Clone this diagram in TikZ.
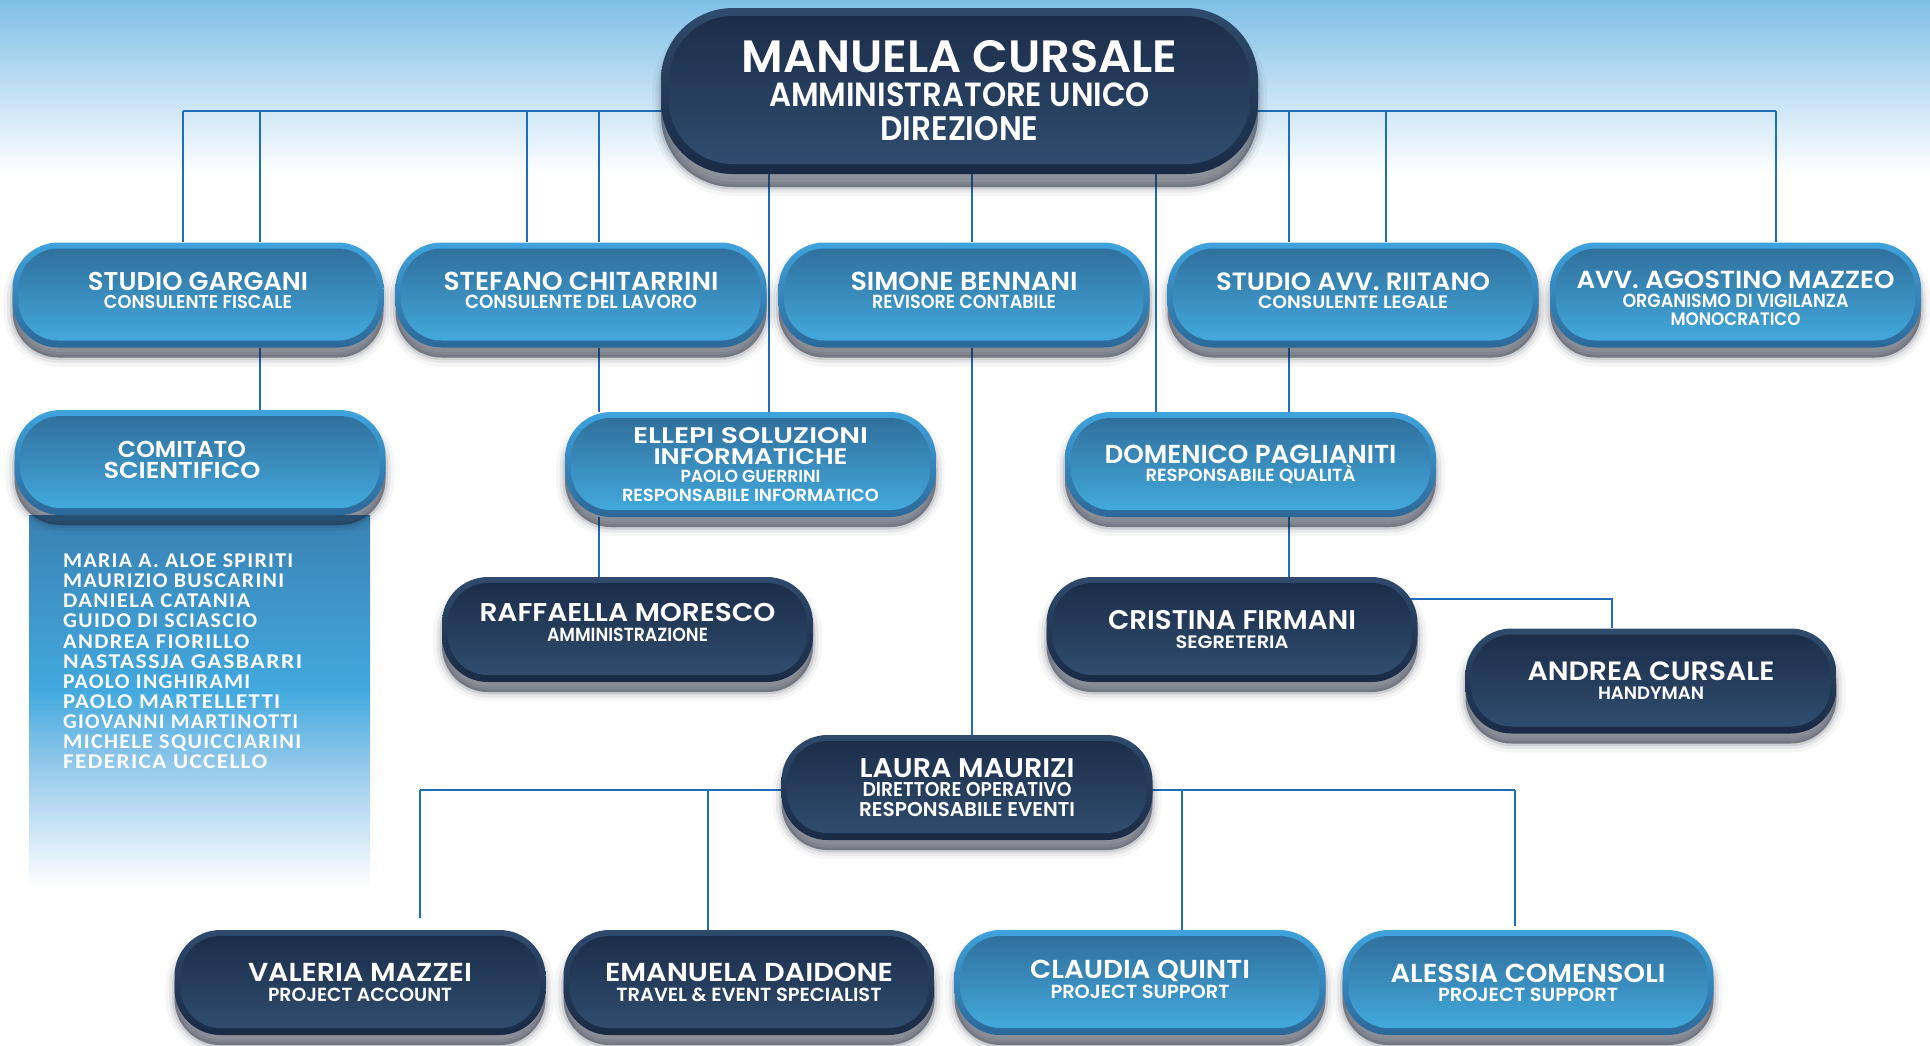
\documentclass[tikz,border=0pt]{standalone}
\usepackage{fontspec}
\usepackage{graphicx}
\setmainfont{Poppins SemiBold}
\newfontfamily\listfont{Carlito}[LetterSpace=6]
\definecolor{bgtop}{HTML}{7FBFE7}
\definecolor{rimLt}{HTML}{3FA3DD}
\definecolor{rimLb}{HTML}{2C6898}
\definecolor{inLt}{HTML}{2F6C99}
\definecolor{inLb}{HTML}{44ADE0}
\definecolor{rimDt}{HTML}{2F4B6D}
\definecolor{rimDb}{HTML}{1A2A45}
\definecolor{inDt}{HTML}{1B2B47}
\definecolor{inDb}{HTML}{314F72}
\definecolor{linec}{HTML}{1F6DBB}
\definecolor{pan1}{HTML}{3A81B4}
\definecolor{pan2}{HTML}{42A9DE}
\definecolor{pan3}{HTML}{8EC6EA}
\definecolor{shad}{HTML}{1A2233}
\newcommand\fitl[3]{\resizebox{#1pt}{\height}{\fontsize{#2}{#2}\selectfont #3}}
\newcommand\cmline[2]{\resizebox{#1pt}{\height}{\listfont\bfseries\fontsize{21}{21}\selectfont #2}}
\pgfdeclarelayer{backdrop}
\pgfdeclarelayer{lines}
\pgfsetlayers{backdrop,lines,main}
\tikzset{
  bs/.style={font=\fontsize{10}{#1}\selectfont},
  softshadow/.style={
    preaction={fill=shad, draw=shad, opacity=0.04, line width=18pt, transform canvas={yshift=-#1}},
    preaction={fill=shad, draw=shad, opacity=0.07, line width=11pt, transform canvas={yshift=-#1}},
    preaction={fill=shad, draw=shad, opacity=0.12, line width=5pt, transform canvas={yshift=-#1}},
    preaction={fill=shad, opacity=0.35, transform canvas={yshift=-#1}}},
  pillbase/.style={rectangle, rounded corners=46pt, minimum width=371pt, minimum height=105pt,
    inner sep=0pt, align=center, text=white, softshadow=10pt},
  lightpill/.style={pillbase, top color=rimLt, bottom color=rimLb,
    path picture={\shade[top color=inLt, bottom color=inLb, rounded corners=40pt]
      ([xshift=6pt,yshift=-6pt]path picture bounding box.north west) rectangle
      ([xshift=-6pt,yshift=7pt]path picture bounding box.south east);}},
  darkpill/.style={pillbase, top color=rimDt, bottom color=rimDb,
    path picture={\shade[top color=inDt, bottom color=inDb, rounded corners=40pt]
      ([xshift=6pt,yshift=-6pt]path picture bounding box.north west) rectangle
      ([xshift=-6pt,yshift=7pt]path picture bounding box.south east);}},
  toppill/.style={rectangle, rounded corners=72pt, minimum width=597pt, minimum height=166pt,
    inner sep=0pt, align=center, text=white, top color=rimDt, bottom color=rimDb, softshadow=13pt,
    path picture={\shade[top color=inDt, bottom color=inDb, rounded corners=64pt]
      ([xshift=8pt,yshift=-8pt]path picture bounding box.north west) rectangle
      ([xshift=-8pt,yshift=10pt]path picture bounding box.south east);}},
  conn/.style={draw=linec, line width=2.7pt},
  listtxt/.style={inner sep=0pt, align=left, text=white, font=\fontsize{10}{20.16}\selectfont}
}
\begin{document}
\begin{tikzpicture}[x=1pt,y=-1pt]
\useasboundingbox (0,0) rectangle (1930,1045);
\begin{pgfonlayer}{backdrop}
  \fill[white] (0,0) rectangle (1930,1045);
  \shade[top color=bgtop, bottom color=white] (0,0) rectangle (1930,175);
  \shade[top color=pan1, bottom color=pan2] (29,515) rectangle (370,690.5);
  \shade[top color=pan2, bottom color=pan3] (29,690) rectangle (370,760.5);
  \shade[top color=pan3, bottom color=white] (29,760) rectangle (370,887);
\end{pgfonlayer}

% top
\node[toppill, bs=34] (top) at (959.5,91)
  {\fitl{436}{45.3}{MANUELA CURSALE}\\\fitl{381}{33.5}{AMMINISTRATORE UNICO}\\\fitl{158}{34}{DIREZIONE}};

% row 2
\node[lightpill, bs=17.8, text depth=9pt] (gargani) at (198,295)
  {\fitl{220}{25.7}{STUDIO GARGANI}\\\fitl{188}{18.6}{CONSULENTE FISCALE}};
\node[lightpill, bs=17.8, text depth=9pt] (stefano) at (581,295)
  {\fitl{275}{26}{STEFANO CHITARRINI}\\\fitl{232}{19}{CONSULENTE DEL LAVORO}};
\node[lightpill, bs=17.8, text depth=9pt] (simone) at (964,295)
  {\fitl{227}{26}{SIMONE BENNANI}\\\fitl{184}{19}{REVISORE CONTABILE}};
\node[lightpill, bs=17.8, text depth=9pt] (riitano) at (1353,295)
  {\fitl{274}{25}{STUDIO AVV. RIITANO}\\\fitl{190}{18}{CONSULENTE LEGALE}};
\node[lightpill, bs=18.5] (mazzeo) at (1735.5,295)
  {\rule{0pt}{25pt}\fitl{318}{24.7}{AVV. AGOSTINO MAZZEO}\\\fitl{226}{19}{ORGANISMO DI VIGILANZA}\\\fitl{130}{18}{MONOCRATICO}};

% row 3
\node[lightpill, bs=20.5, text depth=5.6pt] (comitato) at (200,462.5)
  {\fitl{128}{23}{COMITATO}\rule{36pt}{0pt}\\\fitl{157}{23}{SCIENTIFICO}\rule{36pt}{0pt}};
\node[lightpill, bs=18.6] (ellepi) at (750.5,464.5)
  {\fitl{235}{22.5}{ELLEPI SOLUZIONI}\\[2.5pt]\fitl{194}{22.5}{INFORMATICHE}\\\fitl{140}{17.5}{PAOLO GUERRINI}\\\fitl{257}{17.5}{RESPONSABILE INFORMATICO}};
\node[lightpill, bs=18] (domenico) at (1250.5,464.5)
  {\fitl{292}{26}{DOMENICO PAGLIANITI}\\\fitl{210}{17.6}{RESPONSABILE QUALITÀ}};

% comitato list
\node[listtxt, anchor=north west] (members) at (63,553.4)
  {\cmline{230}{MARIA A. ALOE SPIRITI}\\\cmline{221}{MAURIZIO BUSCARINI}\\\cmline{187}{DANIELA CATANIA}\\
   \cmline{194}{GUIDO DI SCIASCIO}\\\cmline{186}{ANDREA FIORILLO}\\\cmline{239}{NASTASSJA GASBARRI}\\
   \cmline{187}{PAOLO INGHIRAMI}\\\cmline{217}{PAOLO MARTELLETTI}\\\cmline{235}{GIOVANNI MARTINOTTI}\\
   \cmline{238}{MICHELE SQUICCIARINI}\\\cmline{204}{FEDERICA UCCELLO}};

% row 4
\node[darkpill, bs=20, text depth=15pt] (raffaella) at (627.5,629.5)
  {\fitl{296}{25.7}{RAFFAELLA MORESCO}\\\fitl{161}{19}{AMMINISTRAZIONE}};
\node[darkpill, bs=19] (cristina) at (1232,629.5)
  {\fitl{248}{27}{CRISTINA FIRMANI}\\\fitl{113}{18}{SEGRETERIA}};
\node[darkpill, bs=19] (andrea) at (1651,681)
  {\fitl{247}{26.5}{ANDREA CURSALE}\\\fitl{106}{18}{HANDYMAN}};
\node[darkpill, bs=19.5] (laura) at (967,787.5)
  {\fitl{215}{27}{LAURA MAURIZI}\\\fitl{209}{20}{DIRETTORE OPERATIVO}\\\fitl{216}{20}{RESPONSABILE EVENTI}};

% bottom row
\node[darkpill, bs=19.3] (valeria) at (360,982.5)
  {\fitl{224}{26}{VALERIA MAZZEI}\\\fitl{184}{19}{PROJECT ACCOUNT}};
\node[darkpill, bs=19.3] (emanuela) at (749,982.5)
  {\fitl{288}{26}{EMANUELA DAIDONE}\\\fitl{265}{19}{TRAVEL \& EVENT SPECIALIST}};
\node[lightpill, bs=20, text depth=7pt] (claudia) at (1140,982.5)
  {\fitl{220}{26}{CLAUDIA QUINTI}\\\fitl{179}{19}{PROJECT SUPPORT}};
\node[lightpill, bs=19] (alessia) at (1528,982.5)
  {\fitl{275}{26}{ALESSIA COMENSOLI}\\\fitl{180}{19}{PROJECT SUPPORT}};

% connectors
\begin{pgfonlayer}{lines}
  \coordinate (busL) at (183,111);
  \coordinate (busR) at (1776,111);
  \draw[conn] (busL) -- (busR);
  \draw[conn] (busL) -- (gargani.north -| busL);
  \draw[conn] (busL -| 260,0) -- (gargani.north -| 260,0);
  \draw[conn] (busL -| 527,0) -- (stefano.north -| 527,0);
  \draw[conn] (busL -| 599,0) -- (stefano.north -| 599,0);
  \draw[conn] (busL -| 1289,0) -- (riitano.north -| 1289,0);
  \draw[conn] (busL -| 1386,0) -- (riitano.north -| 1386,0);
  \draw[conn] (busR) -- (mazzeo.north -| busR);
  \draw[conn] (top.south -| 769,0) -- (ellepi.north -| 769,0);
  \draw[conn] (top.south -| 972,0) -- (simone.north -| 972,0);
  \draw[conn] (top.south -| 1156,0) -- (domenico.north -| 1156,0);
  \draw[conn] (gargani.south -| 260,0) -- (comitato.north -| 260,0);
  \draw[conn] (stefano.south -| 599,0) -- (ellepi.north -| 599,0);
  \draw[conn] (ellepi.south -| 599,0) -- (raffaella.north -| 599,0);
  \draw[conn] (simone.south -| 972,0) -- (laura.north -| 972,0);
  \draw[conn] (riitano.south -| 1289,0) -- (domenico.north -| 1289,0);
  \draw[conn] (domenico.south -| 1289,0) -- (cristina.north -| 1289,0);
  \draw[conn] (cristina.center |- 0,599) -- (1612,599) -- (andrea.north -| 1612,0);
  \coordinate (lbL) at (420,790);
  \coordinate (lbR) at (1515,790);
  \coordinate (vEnd) at (420,918);
  \coordinate (aEnd) at (1515,926);
  \draw[conn] (lbL) -- (lbR);
  \draw[conn] (lbL) -- (vEnd);
  \draw[conn] (lbL -| 708,0) -- (emanuela.north -| 708,0);
  \draw[conn] (lbL -| 1182,0) -- (claudia.north -| 1182,0);
  \draw[conn] (lbR) -- (aEnd);
\end{pgfonlayer}
\end{tikzpicture}
\end{document}
